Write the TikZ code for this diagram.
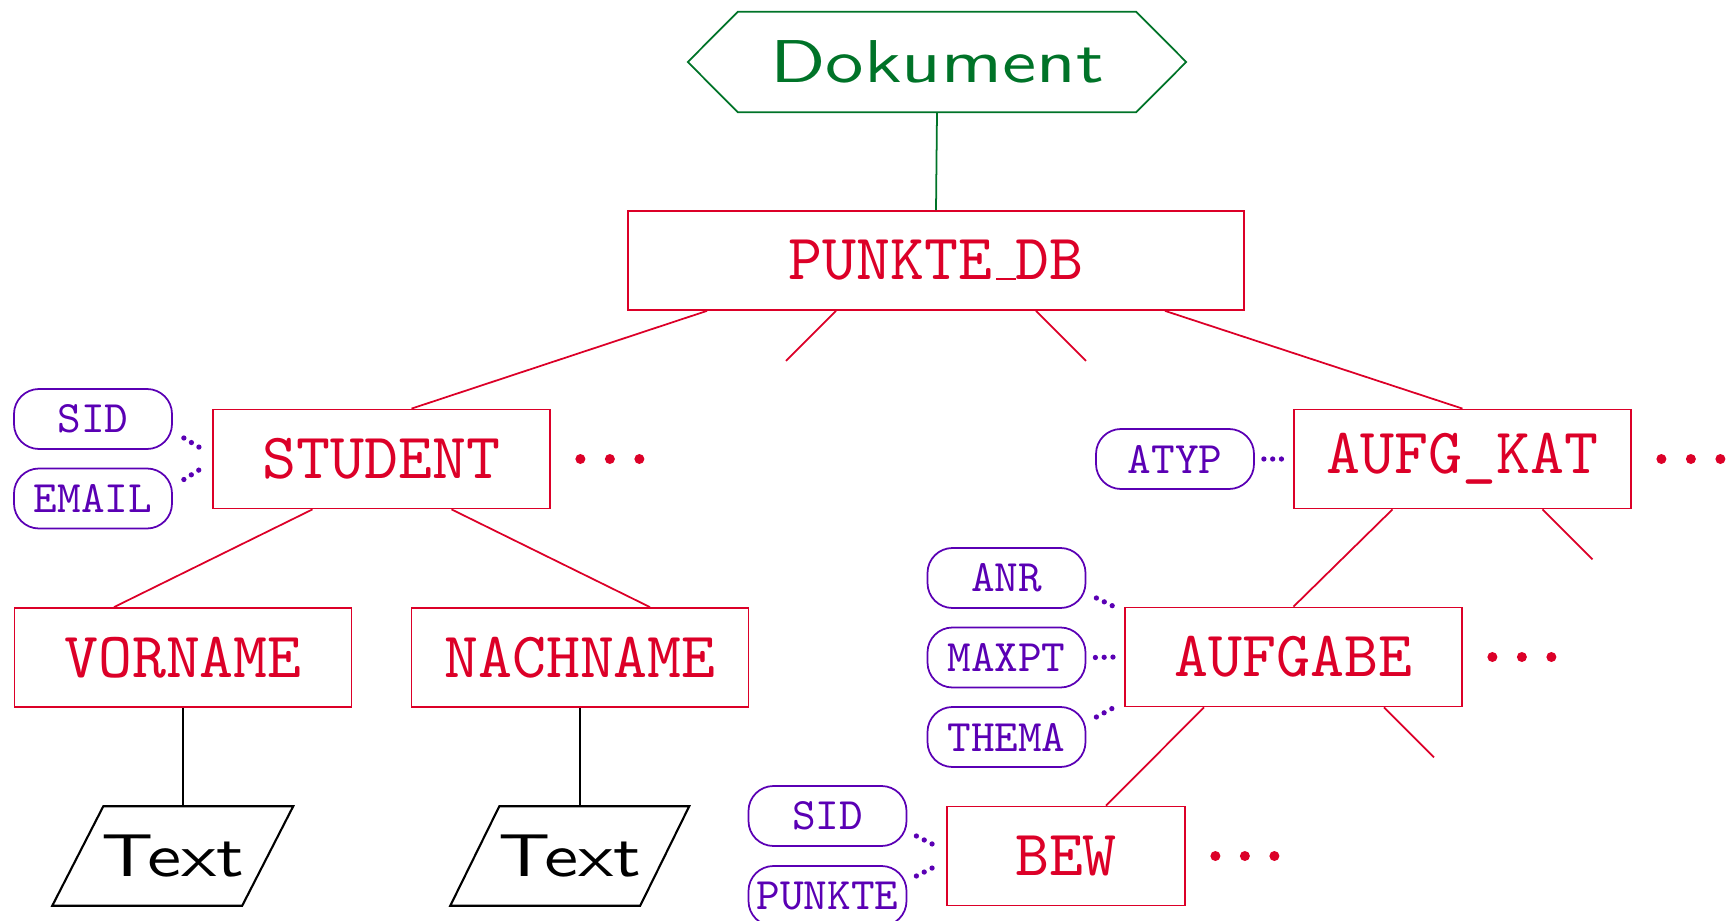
\documentclass[tikz,border=0pt]{standalone}
\usepackage{tikz}
\usepackage{graphicx}
\usepackage{fontspec}
\newfontfamily\dbtt{lmmono10-regular.otf}
\newfontfamily\dbsf{lmsans10-regular.otf}
\definecolor{dbred}{RGB}{220,0,40}
\definecolor{docgreen}{RGB}{0,115,40}
\definecolor{attpurple}{RGB}{90,0,180}
\newcommand{\dbunderscore}{\leavevmode\kern.06em\vbox{\hrule width.3em}}
\newcommand{\moredots}[1]{\foreach \dx in {0.295,0.59,0.885} {\fill[dbred] ([xshift=\dx cm]#1.east) circle (0.05);}}

\begin{document}
\begin{tikzpicture}[
  entity/.style={draw=dbred, text=dbred, line width=0.5pt, minimum width=3.37cm, minimum height=0.99cm, inner sep=0pt, font=\fontsize{18.4}{20}\dbtt},
  attrib/.style={draw=attpurple, text=attpurple, line width=0.5pt, rounded corners=0.25cm, minimum width=1.58cm, minimum height=0.60cm, inner sep=0pt, font=\fontsize{12.8}{15}\dbtt},
  docnode/.style={text=docgreen, minimum width=3.97cm, minimum height=0.99cm, inner sep=0pt, font=\fontsize{17.2}{20}\dbsf},
  datatype/.style={minimum width=1.885cm, minimum height=0.98cm, inner sep=0pt, font=\fontsize{17.2}{20}\dbsf},
  link/.style={dbred, line width=0.5pt},
  attlink/.style={attpurple, line width=1.5pt, line cap=round, dash pattern=on 0pt off 2.5pt},
  typeline/.style={black, line width=0.6pt}]
\useasboundingbox (0,0) rectangle (17.29,-9.21);

% root
\node[docnode] (doc) at (9.37,-0.62) {\scalebox{1.27}[1]{Dokument}};
\draw[docgreen, line width=0.5pt] (doc.north west) -- (doc.north east) -- ([xshift=0.5cm]doc.east)
  -- (doc.south east) -- (doc.south west) -- ([xshift=-0.5cm]doc.west) -- cycle;

% elements
\node[entity, minimum width=6.155cm] (db) at (9.36,-2.605) {PUNKTE\dbunderscore DB};
\node[entity] (student) at (3.815,-4.59) {STUDENT};
\node[entity] (aufgkat) at (14.625,-4.59) {AUFG\_KAT};
\node[entity] (vorname) at (1.83,-6.575) {VORNAME};
\node[entity] (nachname) at (5.80,-6.575) {NACHNAME};
\node[entity] (aufgabe) at (12.935,-6.57) {AUFGABE};
\node[entity, minimum width=2.38cm] (bew) at (10.66,-8.56) {BEW};

% attributes
\node[attrib] (sid1) at (0.93,-4.19) {SID};
\node[attrib] (email) at (0.93,-4.985) {EMAIL};
\node[attrib] (atyp) at (11.75,-4.59) {ATYP};
\node[attrib] (anr) at (10.065,-5.78) {ANR};
\node[attrib] (maxpt) at (10.065,-6.575) {MAXPT};
\node[attrib] (thema) at (10.065,-7.37) {THEMA};
\node[attrib] (sid2) at (8.275,-8.16) {SID};
\node[attrib] (punkte) at (8.275,-8.96) {PUNKTE};

% text content
\node[datatype] (text1) at (1.7275,-8.56) {\scalebox{1.27}[1]{Text}};
\node[datatype] (text2) at (5.6975,-8.56) {\scalebox{1.27}[1]{Text}};
\draw[typeline] ([xshift=-0.255cm]text1.south west) -- ([xshift=0.255cm]text1.north west)
  -- ([xshift=0.255cm]text1.north east) -- ([xshift=-0.255cm]text1.south east) -- cycle;
\draw[typeline] ([xshift=-0.245cm]text2.south west) -- ([xshift=0.245cm]text2.north west)
  -- ([xshift=0.245cm]text2.north east) -- ([xshift=-0.245cm]text2.south east) -- cycle;

% tree edges
\draw[docgreen, line width=0.5pt] (doc.south) -- (db.north);
\draw[link] ([xshift=-2.29cm]db.south) -- ([xshift=0.30cm]student.north);
\draw[link] ([xshift=-1.0cm]db.south) -- ++(-0.5,-0.5);
\draw[link] ([xshift=1.0cm]db.south) -- ++(0.5,-0.5);
\draw[link] ([xshift=2.29cm]db.south) -- (aufgkat.north);
\draw[link] ([xshift=-0.69cm]student.south) -- ([xshift=-0.69cm]vorname.north);
\draw[link] ([xshift=0.70cm]student.south) -- ([xshift=0.70cm]nachname.north);
\draw[link] ([xshift=-0.70cm]aufgkat.south) -- (aufgabe.north);
\draw[link] ([xshift=0.80cm]aufgkat.south) -- ++(0.5,-0.5);
\draw[link] ([xshift=-0.895cm]aufgabe.south) -- ([xshift=0.40cm]bew.north);
\draw[link] ([xshift=0.905cm]aufgabe.south) -- ++(0.5,-0.5);
\draw[typeline] (vorname.south) -- (vorname.south |- text1.north);
\draw[typeline] (nachname.south) -- (nachname.south |- text2.north);

% attribute links
\draw[attlink] ([shift={(0.11,-0.19)}]sid1.east) -- ([shift={(-0.10,0.10)}]student.west);
\draw[attlink] ([shift={(0.11,0.19)}]email.east) -- ([shift={(-0.10,-0.09)}]student.west);
\draw[attlink] ([xshift=0.09cm]atyp.east) -- ([xshift=-0.09cm]aufgkat.west);
\draw[attlink] ([shift={(0.10,-0.20)}]anr.east) -- ([xshift=-0.10cm]aufgabe.north west);
\draw[attlink] ([xshift=0.09cm]maxpt.east) -- ([xshift=-0.09cm]aufgabe.west);
\draw[attlink] ([shift={(0.10,0.20)}]thema.east) -- ([xshift=-0.10cm]aufgabe.south west);
\draw[attlink] ([shift={(0.09,-0.20)}]sid2.east) -- ([shift={(-0.10,0.10)}]bew.west);
\draw[attlink] ([shift={(0.09,0.20)}]punkte.east) -- ([shift={(-0.10,-0.10)}]bew.west);

% more children
\moredots{student}
\moredots{aufgkat}
\moredots{aufgabe}
\moredots{bew}
\end{tikzpicture}
\end{document}
